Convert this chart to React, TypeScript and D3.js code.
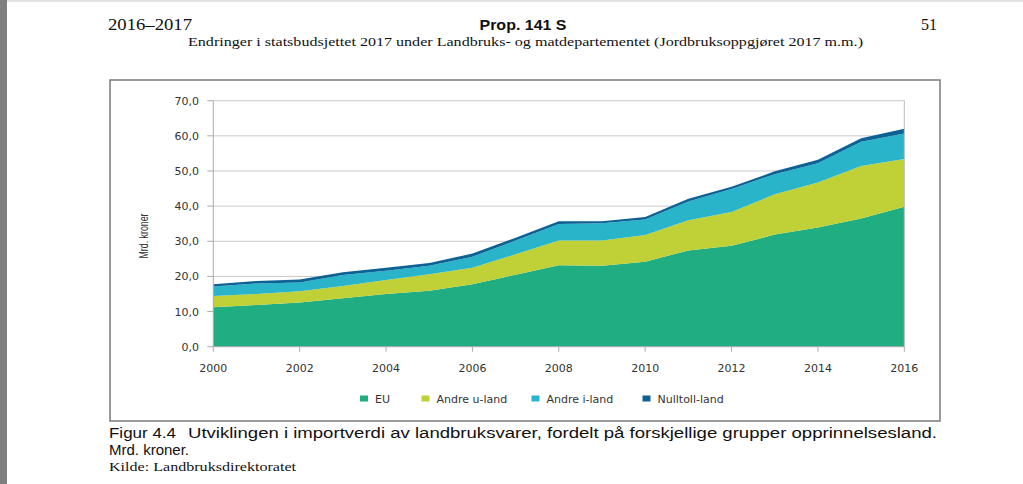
import React from "react";
import * as d3 from "d3";

const years = [2000, 2001, 2002, 2003, 2004, 2005, 2006, 2007, 2008, 2009, 2010, 2011, 2012, 2013, 2014, 2015, 2016];
const eu = [11.2, 11.9, 12.6, 13.8, 15.0, 15.9, 17.8, 20.5, 23.2, 23.0, 24.2, 27.4, 28.7, 31.9, 33.9, 36.5, 39.8];
const andreU = [3.2, 3.1, 3.2, 3.5, 4.0, 4.7, 4.7, 5.8, 7.0, 7.2, 7.6, 8.6, 9.6, 11.5, 12.8, 14.9, 13.6];
const andreI = [2.7, 3.0, 2.5, 3.1, 2.6, 2.4, 3.1, 3.9, 4.7, 4.9, 4.4, 5.3, 6.6, 5.7, 5.5, 6.9, 7.3];
const nulltoll = [0.7, 0.7, 0.8, 0.8, 0.9, 0.8, 0.9, 0.8, 0.8, 0.6, 0.7, 0.8, 0.6, 0.8, 1.0, 1.0, 1.3];
const seriesNames = ["EU", "Andre u-land", "Andre i-land", "Nulltoll-land"];
const seriesColors = ["#20ad82", "#bfd137", "#29b4c9", "#0c6195"];
const yTicks = [0, 10, 20, 30, 40, 50, 60, 70];
const xTicks = [2000, 2002, 2004, 2006, 2008, 2010, 2012, 2014, 2016];

export default function App() {
  const x = d3.scaleLinear().domain([2000, 2016]).range([213.3, 904.3]);
  const y = d3.scaleLinear().domain([0, 70]).range([346.7, 100.7]);
  const rows = years.map((yr, i) => ({ year: yr, s0: eu[i], s1: andreU[i], s2: andreI[i], s3: nulltoll[i] }));
  const stack = d3.stack<any>().keys(["s0", "s1", "s2", "s3"]);
  const layers = stack(rows);
  const area = d3
    .area<any>()
    .x((d) => x(d.data.year))
    .y0((d) => y(d[0]))
    .y1((d) => y(d[1]));
  const fmt = (v: number) => v.toFixed(1).replace(".", ",");
  const sans = "'DejaVu Sans', sans-serif";
  const legendX = [360, 421.5, 531.5, 642.5];

  return (
    <svg width={1023} height={484} style={{ position: "absolute", left: 0, top: 0, background: "#fff" }}>
      <rect x={0} y={0} width={1023} height={484} fill="#fff" />
      <rect x={0} y={0} width={1023} height={2} fill="#e2e2e2" />
      <rect x={0} y={0} width={7} height={484} fill="#7f7f7f" />
      {/* header */}
      <text x={108} y={30} fontFamily="'Liberation Serif', serif" fontSize={16} textLength={84} lengthAdjust="spacingAndGlyphs" fill="#111">2016–2017</text>
      <text x={523} y={30} fontFamily="'Liberation Sans', sans-serif" fontWeight="bold" fontSize={15} textAnchor="middle" textLength={87} lengthAdjust="spacingAndGlyphs" fill="#111">Prop. 141 S</text>
      <text x={937} y={30} fontFamily="'Liberation Serif', serif" fontSize={16} textAnchor="end" fill="#111">51</text>
      <text x={188} y={46} fontFamily="'Liberation Serif', serif" fontSize={13} textLength={675} lengthAdjust="spacingAndGlyphs" fill="#111">Endringer i statsbudsjettet 2017 under Landbruks- og matdepartementet (Jordbruksoppgjøret 2017 m.m.)</text>
      {/* frame */}
      <rect x={110} y={80} width={830} height={341} fill="none" stroke="#7a7a7a" strokeWidth={1.5} />
      {/* gridlines */}
      {yTicks.map((t) => (
        <g key={t}>
          {t > 0 && <line x1={x(2000)} x2={x(2016)} y1={y(t)} y2={y(t)} stroke="#c9c9c9" strokeWidth={1} />}
          <line x1={x(2000) - 6} x2={x(2000)} y1={y(t)} y2={y(t)} stroke="#aaa" strokeWidth={1} />
          <text x={199} y={y(t) + 4} textAnchor="end" fontFamily={sans} fontSize={11} fill="#333">{fmt(t)}</text>
        </g>
      ))}
      {/* areas */}
      {layers.map((l, i) => (
        <path key={i} d={area(l) || ""} fill={seriesColors[i]} />
      ))}
      {/* axes */}
      <line x1={x(2000)} x2={x(2000)} y1={y(70)} y2={y(0)} stroke="#aaa" strokeWidth={1} />
      <line x1={x(2016)} x2={x(2016)} y1={y(70)} y2={y(0)} stroke="#bbb" strokeWidth={1} />
      <line x1={x(2000)} x2={x(2016)} y1={y(0)} y2={y(0)} stroke="#aaa" strokeWidth={1} />
      {xTicks.map((t) => (
        <g key={t}>
          <line x1={x(t)} x2={x(t)} y1={y(0)} y2={y(0) + 5} stroke="#aaa" strokeWidth={1} />
          <text x={x(t)} y={372} textAnchor="middle" fontFamily={sans} fontSize={11} fill="#333">{t}</text>
        </g>
      ))}
      <text transform="translate(147.5,236) rotate(-90)" textAnchor="middle" fontFamily="'Liberation Sans', sans-serif" fontSize={12.5} textLength={45} lengthAdjust="spacingAndGlyphs" fill="#333">Mrd. kroner</text>
      {/* legend */}
      {seriesNames.map((n, i) => (
        <g key={n}>
          <rect x={legendX[i]} y={395.5} width={8} height={6} fill={seriesColors[i]} />
          <text x={legendX[i] + 15} y={402.5} fontFamily={sans} fontSize={11} fill="#333">{n}</text>
        </g>
      ))}
      {/* caption */}
      <text x={109} y={438} fontFamily="'Liberation Sans', sans-serif" fontSize={15.5} textLength={67} lengthAdjust="spacingAndGlyphs" fill="#111">Figur 4.4</text>
      <text x={188} y={438} fontFamily="'Liberation Sans', sans-serif" fontSize={15.5} textLength={749} lengthAdjust="spacingAndGlyphs" fill="#111">Utviklingen i importverdi av landbruksvarer, fordelt på forskjellige grupper opprinnelsesland.</text>
      <text x={109} y={455} fontFamily="'Liberation Sans', sans-serif" fontSize={15.5} textLength={80} lengthAdjust="spacingAndGlyphs" fill="#111">Mrd. kroner.</text>
      <text x={109} y={471} fontFamily="'Liberation Serif', serif" fontSize={12.5} textLength={187} lengthAdjust="spacingAndGlyphs" fill="#111">Kilde: Landbruksdirektoratet</text>
    </svg>
  );
}
